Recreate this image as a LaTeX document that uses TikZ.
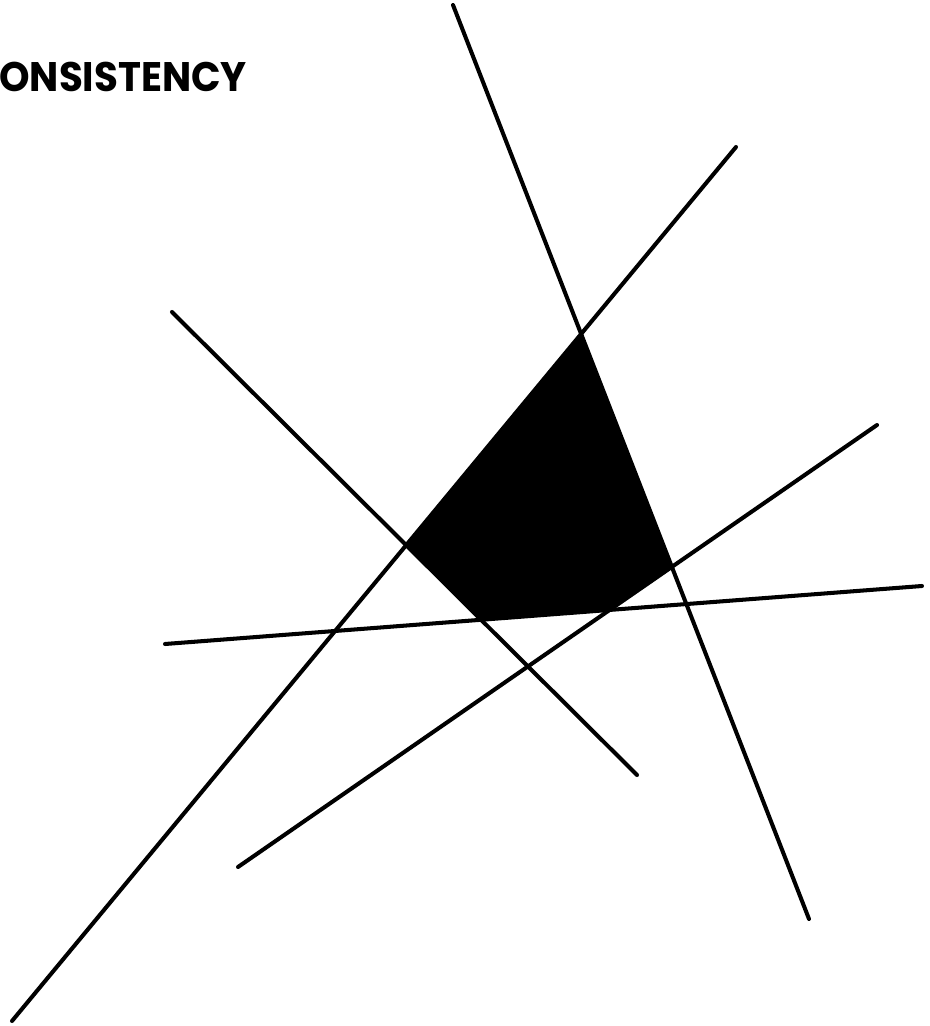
\documentclass[tikz,border=0pt]{standalone}
\usepackage{fontspec}
\newfontfamily\headfont{Poppins}
\usepackage{tikz}

\tikzset{
  cutline/.style={line width=2.3pt,line cap=round,black},
  region/.style={fill=black},
  heading/.style={inner sep=0pt,anchor=base west,xscale=0.94,font=\headfont\bfseries\fontsize{23.5}{24}\selectfont}
}

\begin{document}
\begin{tikzpicture}[x=0.02cm,y=-0.02cm]
  \useasboundingbox (0,0) rectangle (929,1026);

  % heading, cut at the left edge as printed
  \node[heading] (title) at (-1,92) {ONSISTENCY};

  % end points of the five lines
  \coordinate (aTop) at (453,5);   \coordinate (aBot) at (809,919);
  \coordinate (bTop) at (736,147); \coordinate (bBot) at (12,1021);
  \coordinate (cTop) at (172,312); \coordinate (cBot) at (637,775);
  \coordinate (dTop) at (877,425); \coordinate (dBot) at (238,867);
  \coordinate (eLft) at (165,644); \coordinate (eRgt) at (922,586);

  % the common region
  \fill[region] (intersection of aTop--aBot and bTop--bBot)
    -- (intersection of bTop--bBot and cTop--cBot)
    -- (intersection of cTop--cBot and eLft--eRgt)
    -- (intersection of eLft--eRgt and dTop--dBot)
    -- (intersection of dTop--dBot and aTop--aBot) -- cycle;

  % the lines
  \draw[cutline] (aTop) -- (aBot);
  \draw[cutline] (bTop) -- (bBot);
  \draw[cutline] (cTop) -- (cBot);
  \draw[cutline] (dTop) -- (dBot);
  \draw[cutline] (eLft) -- (eRgt);
\end{tikzpicture}
\end{document}
